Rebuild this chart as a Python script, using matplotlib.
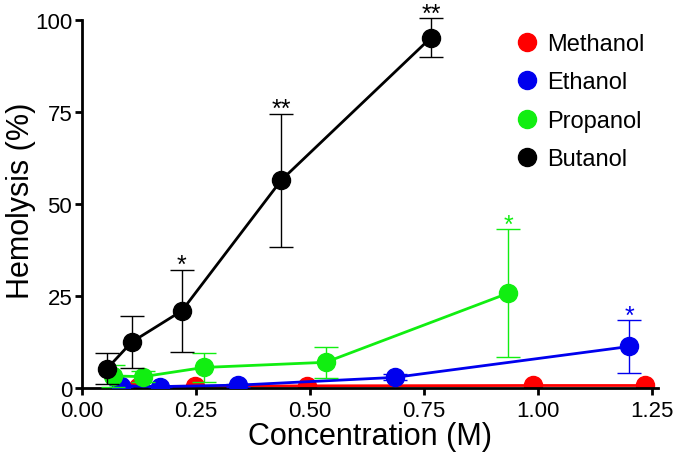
import matplotlib
matplotlib.use("Agg")
import matplotlib.pyplot as plt

plt.rcParams['font.family'] = ['Liberation Sans', 'DejaVu Sans']

# concentrations (M) and hemolysis (%)
methanol_x = [0.123, 0.247, 0.494, 0.988, 1.235]
methanol_y = [0.3, 0.4, 0.5, 0.6, 0.6]

ethanol_x = [0.086, 0.171, 0.343, 0.686, 1.200]
ethanol_y = [0.5, 0.3, 0.7, 2.8, 11.2]
ethanol_err = [0.3, 0.2, 0.4, 0.8, 7.2]

propanol_x = [0.067, 0.134, 0.267, 0.534, 0.935]
propanol_y = [3.2, 3.0, 5.5, 6.9, 25.7]
propanol_err = [2.9, 1.5, 3.9, 4.2, 17.4]

butanol_x = [0.055, 0.109, 0.219, 0.437, 0.765]
butanol_y = [5.2, 12.4, 20.9, 56.4, 95.1]
butanol_err = [4.1, 7.0, 11.2, 18.1, 5.3]

# significance marks: (series index, point index, label)
stars = [(1, 4, '*'), (2, 4, '*'), (3, 2, '*'), (3, 3, '**'), (3, 4, '**')]

names = ['Methanol', 'Ethanol', 'Propanol', 'Butanol']
colors = ['#ff0000', '#0000ee', '#11ee11', '#000000']
xs = [methanol_x, ethanol_x, propanol_x, butanol_x]
ys = [methanol_y, ethanol_y, propanol_y, butanol_y]
errs = [None, ethanol_err, propanol_err, butanol_err]

fig = plt.figure(figsize=(6.75, 4.6), dpi=100)
ax = fig.add_axes([0.1215, 0.155, 0.8526, 0.8])

for i in range(4):
    if errs[i] is not None:
        eb = ax.errorbar(xs[i], ys[i], yerr=errs[i], fmt='none', ecolor=colors[i],
                         elinewidth=1.0, capsize=8.5, capthick=1.0, zorder=2 + i)
        for part in eb.lines[1] + eb.lines[2]:
            part.set_clip_on(False)
    ax.plot(xs[i], ys[i], '-o', color=colors[i], lw=2.0, ms=13,
            label=names[i], zorder=2.5 + i)

for si, pi, lab in stars:
    top = ys[si][pi] + errs[si][pi]
    ax.text(xs[si][pi], top - 0.7, lab, color=colors[si], fontsize=18,
            ha='center', va='baseline')

ax.set_xlim(0, 1.262)
ax.set_ylim(0, 100)
ax.set_xticks([0, 0.25, 0.5, 0.75, 1.0, 1.25])
ax.set_xticklabels(['0.00', '0.25', '0.50', '0.75', '1.00', '1.25'])
ax.set_yticks([0, 25, 50, 75, 100])

for s in ['top', 'right']:
    ax.spines[s].set_visible(False)
for s in ['left', 'bottom']:
    ax.spines[s].set_linewidth(2.0)
ax.tick_params(width=2.0, length=5, labelsize=16)
ax.tick_params(axis='x', pad=4)
ax.tick_params(axis='y', pad=2)

ax.set_xlabel('Concentration (M)', fontsize=22, labelpad=0)
ax.set_ylabel('Hemolysis (%)', fontsize=22)
ax.yaxis.set_label_coords(-0.08, 0.51)

ax.legend(loc='upper left', bbox_to_anchor=(0.745, 0.99), frameon=False,
          fontsize=17, handlelength=0.6, handletextpad=0.55, labelspacing=0.7,
          markerscale=1.0, borderaxespad=0)
leg = ax.get_legend()
for h in leg.legend_handles:
    h.set_linestyle('none')

fig.savefig('out.png', dpi=100)
